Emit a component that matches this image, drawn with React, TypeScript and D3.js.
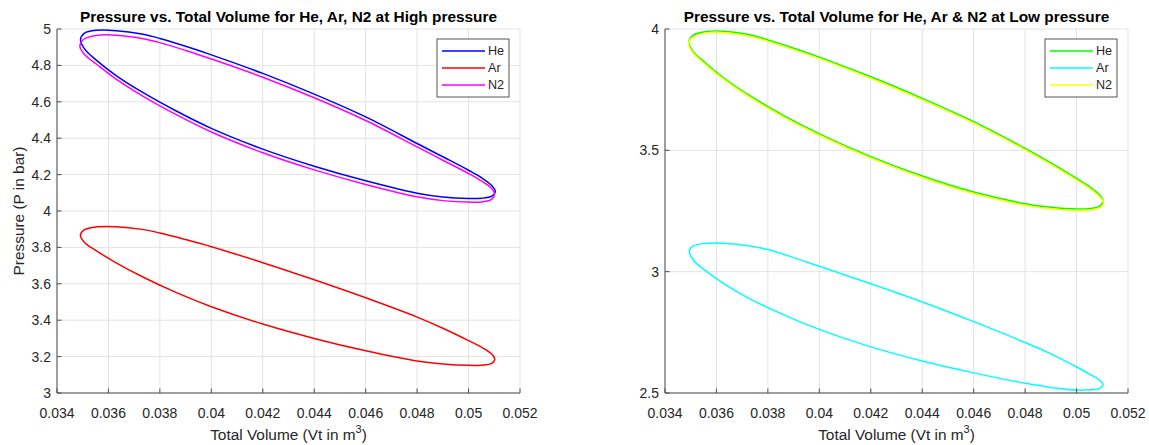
import React from "react";
import * as d3 from "d3";

// P–V loops (volume in m^3, pressure in bar), traced clockwise from the left tip
const heHigh: [number, number][] = [
  [0.034914, 4.941], [0.03507, 4.977], [0.03555, 4.993], [0.0363, 4.991], [0.0373, 4.972],
  [0.038, 4.948], [0.039, 4.905], [0.04, 4.858], [0.042, 4.756], [0.044, 4.642],
  [0.046, 4.517], [0.048, 4.371], [0.049, 4.298], [0.05, 4.224], [0.0505, 4.183],
  [0.0509, 4.14], [0.05104, 4.107], [0.0509, 4.082], [0.0505, 4.07], [0.05, 4.069],
  [0.049, 4.077], [0.048, 4.098], [0.046, 4.166], [0.044, 4.246], [0.042, 4.34],
  [0.04, 4.454], [0.0386, 4.552], [0.0373, 4.654], [0.0363, 4.744], [0.03555, 4.826],
  [0.03507, 4.891],
];

const arHigh: [number, number][] = [
  [0.03491, 3.866], [0.03507, 3.897], [0.03555, 3.913], [0.0363, 3.914], [0.0373, 3.899],
  [0.038, 3.879], [0.039, 3.843], [0.04, 3.804], [0.042, 3.716], [0.044, 3.622],
  [0.046, 3.523], [0.048, 3.417], [0.049, 3.356], [0.05, 3.288], [0.0505, 3.252],
  [0.0509, 3.214], [0.05102, 3.185], [0.0509, 3.163], [0.0505, 3.153], [0.05, 3.152],
  [0.049, 3.16], [0.048, 3.176], [0.046, 3.232], [0.044, 3.3], [0.042, 3.379],
  [0.04, 3.474], [0.0386, 3.554], [0.0373, 3.64], [0.0363, 3.715], [0.03555, 3.78],
  [0.03507, 3.827],
];

const n2High: [number, number][] = [
  [0.03489, 4.905], [0.03505, 4.945], [0.03555, 4.965], [0.0363, 4.966], [0.0373, 4.948],
  [0.038, 4.925], [0.039, 4.882], [0.04, 4.835], [0.042, 4.735], [0.044, 4.622],
  [0.046, 4.497], [0.048, 4.352], [0.049, 4.279], [0.05, 4.206], [0.0505, 4.165],
  [0.0509, 4.123], [0.05101, 4.097], [0.0509, 4.064], [0.0505, 4.05], [0.05, 4.049],
  [0.049, 4.057], [0.048, 4.078], [0.046, 4.146], [0.044, 4.226], [0.042, 4.32],
  [0.04, 4.434], [0.0386, 4.532], [0.0373, 4.634], [0.0363, 4.724], [0.03555, 4.805],
  [0.03507, 4.86],
];

const heLow: [number, number][] = [
  [0.03493, 3.948], [0.03507, 3.973], [0.03555, 3.989], [0.0363, 3.991], [0.0373, 3.976],
  [0.038, 3.955], [0.039, 3.921], [0.04, 3.884], [0.042, 3.803], [0.044, 3.714],
  [0.046, 3.618], [0.048, 3.508], [0.049, 3.448], [0.05, 3.384], [0.0505, 3.35],
  [0.0509, 3.316], [0.05103, 3.29], [0.0509, 3.27], [0.0505, 3.26], [0.05, 3.258],
  [0.049, 3.265], [0.048, 3.28], [0.046, 3.328], [0.044, 3.394], [0.042, 3.474],
  [0.04, 3.568], [0.0386, 3.644], [0.0373, 3.725], [0.0363, 3.797], [0.03555, 3.862],
  [0.03507, 3.91],
];

const arLow: [number, number][] = [
  [0.03495, 3.088], [0.0351, 3.106], [0.03555, 3.116], [0.0363, 3.117], [0.0373, 3.106],
  [0.038, 3.091], [0.039, 3.058], [0.04, 3.022], [0.042, 2.95], [0.044, 2.875],
  [0.046, 2.794], [0.048, 2.708], [0.049, 2.661], [0.05, 2.607], [0.0505, 2.578],
  [0.0509, 2.552], [0.05103, 2.535], [0.0509, 2.519], [0.0505, 2.513], [0.05, 2.512],
  [0.049, 2.523], [0.048, 2.54], [0.046, 2.583], [0.044, 2.632], [0.042, 2.69],
  [0.04, 2.762], [0.0386, 2.823], [0.0373, 2.888], [0.0363, 2.95], [0.03555, 3.006],
  [0.0351, 3.048],
];

const n2Low: [number, number][] = [
  [0.03492, 3.941], [0.03507, 3.966], [0.03555, 3.983], [0.0363, 3.985], [0.0373, 3.97],
  [0.038, 3.949], [0.039, 3.915], [0.04, 3.878], [0.042, 3.797], [0.044, 3.708],
  [0.046, 3.612], [0.048, 3.502], [0.049, 3.442], [0.05, 3.378], [0.0505, 3.344],
  [0.0509, 3.309], [0.05105, 3.283], [0.0509, 3.264], [0.0505, 3.254], [0.05, 3.252],
  [0.049, 3.259], [0.048, 3.274], [0.046, 3.322], [0.044, 3.388], [0.042, 3.468],
  [0.04, 3.562], [0.0386, 3.638], [0.0373, 3.719], [0.0363, 3.791], [0.03555, 3.856],
  [0.03507, 3.904],
];

const volumeTicks = [0.034, 0.036, 0.038, 0.04, 0.042, 0.044, 0.046, 0.048, 0.05, 0.052];
const highPressureTicks = [3, 3.2, 3.4, 3.6, 3.8, 4, 4.2, 4.4, 4.6, 4.8, 5];
const lowPressureTicks = [2.5, 3, 3.5, 4];
const gasNames = ["He", "Ar", "N2"];
const highColors = ["#0000ff", "#ff0000", "#ff00ff"];
const lowColors = ["#00ff00", "#00ffff", "#ffff00"];

const FONT = "'Liberation Sans', Arial, Helvetica, sans-serif";
const TEXT = "#262626";
const W = 1149;
const H = 445;
const TOP = 29;
const BOTTOM = 393;

type PanelProps = {
  left: number;
  right: number;
  title: string;
  yDomain: [number, number];
  yTicks: number[];
  series: [number, number][][];
  colors: string[];
  yLabel?: string;
};

function Panel({ left, right, title, yDomain, yTicks, series, colors, yLabel }: PanelProps) {
  const x = d3.scaleLinear().domain([0.034, 0.052]).range([left, right]);
  const y = d3.scaleLinear().domain(yDomain).range([BOTTOM, TOP]);
  const line = d3
    .line<[number, number]>()
    .x((d) => x(d[0]))
    .y((d) => y(d[1]))
    .curve(d3.curveCatmullRomClosed.alpha(0.5));
  const cx = (left + right) / 2;
  const lgRight = right - 11;
  const lgLeft = lgRight - 72;
  const lgTop = 39;

  return (
    <g>
      {/* grid */}
      {volumeTicks.map((t) => (
        <line key={"gx" + t} x1={x(t)} x2={x(t)} y1={TOP} y2={BOTTOM} stroke="#e3e3e3" strokeWidth={1} />
      ))}
      {yTicks.map((t) => (
        <line key={"gy" + t} x1={left} x2={right} y1={y(t)} y2={y(t)} stroke="#e3e3e3" strokeWidth={1} />
      ))}

      {/* loops */}
      {series.map((s, i) => (
        <path key={"s" + i} d={line(s) || ""} fill="none" stroke={colors[i]} strokeWidth={1.5} strokeLinejoin="round" />
      ))}

      {/* axes */}
      <line x1={left} x2={right} y1={BOTTOM} y2={BOTTOM} stroke="#4d4d4d" strokeWidth={1} />
      <line x1={left} x2={left} y1={TOP} y2={BOTTOM} stroke="#4d4d4d" strokeWidth={1} />
      {volumeTicks.map((t) => (
        <g key={"tx" + t}>
          <line x1={x(t)} x2={x(t)} y1={BOTTOM} y2={BOTTOM - 4.5} stroke="#4d4d4d" strokeWidth={1} />
          <text x={x(t)} y={418} textAnchor="middle" fontSize={14} fill={TEXT} fontFamily={FONT}>
            {String(t)}
          </text>
        </g>
      ))}
      {yTicks.map((t) => (
        <g key={"ty" + t}>
          <line x1={left} x2={left + 4.5} y1={y(t)} y2={y(t)} stroke="#4d4d4d" strokeWidth={1} />
          <text x={left - 6} y={y(t)} dy="0.35em" textAnchor="end" fontSize={14} fill={TEXT} fontFamily={FONT}>
            {String(t)}
          </text>
        </g>
      ))}

      {/* labels */}
      <text x={cx} y={22} textAnchor="middle" fontSize={15.4} fontWeight="bold" fill="#000" fontFamily={FONT}>
        {title}
      </text>
      <text x={cx} y={440} textAnchor="middle" fontSize={15.4} fill={TEXT} fontFamily={FONT}>
        Total Volume (Vt in m
        <tspan fontSize={11} dy={-7}>3</tspan>
        <tspan dy={7}>)</tspan>
      </text>
      {yLabel && (
        <text
          transform={`translate(24,${(TOP + BOTTOM) / 2}) rotate(-90)`}
          textAnchor="middle"
          fontSize={15.4}
          fill={TEXT}
          fontFamily={FONT}
        >
          {yLabel}
        </text>
      )}

      {/* legend */}
      <rect x={lgLeft} y={lgTop} width={72} height={58} fill="#fff" stroke="#555" strokeWidth={1} />
      {gasNames.map((name, i) => {
        const ly = lgTop + 12 + i * 17;
        return (
          <g key={"lg" + name}>
            <line x1={lgLeft + 5} x2={lgLeft + 48} y1={ly} y2={ly} stroke={colors[i]} strokeWidth={1.5} />
            <text x={lgLeft + 51} y={ly} dy="0.35em" fontSize={12.6} fill={TEXT} fontFamily={FONT}>
              {name}
            </text>
          </g>
        );
      })}
    </g>
  );
}

export default function App() {
  return (
    <svg
      width={W}
      height={H}
      viewBox={`0 0 ${W} ${H}`}
      style={{ position: "absolute", left: 0, top: 0, background: "#fff" }}
    >
      <rect x={0} y={0} width={W} height={H} fill="#fff" />
      <Panel
        left={57}
        right={520}
        title="Pressure vs. Total Volume for He, Ar, N2 at High pressure"
        yDomain={[3, 5]}
        yTicks={highPressureTicks}
        series={[heHigh, arHigh, n2High]}
        colors={highColors}
        yLabel="Pressure (P in bar)"
      />
      <Panel
        left={665}
        right={1128}
        title="Pressure vs. Total Volume for He, Ar & N2 at Low pressure"
        yDomain={[2.5, 4]}
        yTicks={lowPressureTicks}
        series={[heLow, arLow, n2Low]}
        colors={lowColors}
      />
    </svg>
  );
}
